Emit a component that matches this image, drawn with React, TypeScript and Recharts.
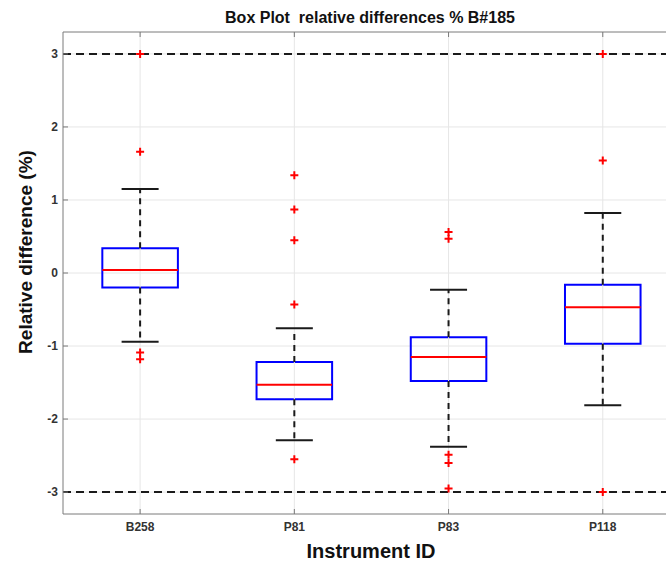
import React from 'react';
import {
  ComposedChart,
  Scatter,
  XAxis,
  YAxis,
  CartesianGrid,
  ReferenceLine,
  ReferenceArea,
} from 'recharts';

// ---- data ----
const categories = ['B258', 'P81', 'P83', 'P118'];
const q1 = [-0.2, -1.73, -1.48, -0.97];
const medians = [0.04, -1.53, -1.15, -0.47];
const q3 = [0.34, -1.22, -0.88, -0.16];
const whiskerLow = [-0.94, -2.29, -2.38, -1.81];
const whiskerHigh = [1.15, -0.755, -0.23, 0.82];
const outliersB258 = [3.0, 1.66, -1.09, -1.18];
const outliersP81 = [1.34, 0.87, 0.45, -0.43, -2.55];
const outliersP83 = [0.56, 0.47, -2.49, -2.6, -2.95];
const outliersP118 = [3.0, 1.54, -3.0];
const yTicks = [-3, -2, -1, 0, 1, 2, 3];
const xTicks = [1, 2, 3, 4];
const limitLines = [3, -3];

const outlierGroups = [outliersB258, outliersP81, outliersP83, outliersP118];
const outlierData = outlierGroups.flatMap((vals, i) =>
  vals.map((v) => ({ x: i + 1, y: v }))
);

const X_DOMAIN: [number, number] = [0.5, 4.41];
const BOX_HALF = 0.245;
const CAP_HALF = 0.12;
const FONT = '"Liberation Sans", Arial, Helvetica, sans-serif';

const PlusShape = (props: any) => {
  const { cx, cy } = props;
  if (cx == null || cy == null) return <g />;
  return (
    <path
      d={`M${cx - 4},${cy}h8M${cx},${cy - 4}v8`}
      stroke="#ff0000"
      strokeWidth={2}
      fill="none"
    />
  );
};

export default function App() {
  return (
    <div
      style={{
        position: 'fixed',
        left: 0,
        top: 0,
        width: 666,
        height: 563,
        overflow: 'hidden',
        background: '#fff',
        fontFamily: FONT,
      }}
    >
      <ComposedChart
        width={666}
        height={563}
        margin={{ top: 30, right: 0, bottom: 0, left: 0 }}
        data={outlierData}
        style={{ fontFamily: FONT }}
      >
        <CartesianGrid
          xAxisId="bottom"
          stroke="#e6e6e6"
          strokeWidth={1}
          vertical={false}
          syncWithTicks
        />
        {xTicks.map((t) => (
          <ReferenceLine
            key={`vg${t}`}
            xAxisId="bottom"
            x={t}
            stroke="#e6e6e6"
            strokeWidth={1}
          />
        ))}
        <XAxis
          xAxisId="bottom"
          dataKey="x"
          type="number"
          domain={X_DOMAIN}
          allowDataOverflow
          ticks={xTicks}
          interval={0}
          tickFormatter={(v: number) => categories[v - 1]}
          height={49}
          stroke="#7a7a7a"
          tickSize={-5}
          tickMargin={13}
          tick={{ fill: '#333', fontSize: 12, fontWeight: 'bold' }}
        />
        <XAxis
          xAxisId="top"
          orientation="top"
          dataKey="x"
          type="number"
          domain={X_DOMAIN}
          allowDataOverflow
          ticks={xTicks}
          interval={0}
          tickFormatter={() => ''}
          height={2}
          stroke="#7a7a7a"
          tickSize={-5}
        />
        <YAxis
          type="number"
          domain={[-3.3, 3.3]}
          ticks={yTicks}
          interval={0}
          width={63}
          stroke="#7a7a7a"
          tickSize={-5}
          tickMargin={10}
          tick={{ fill: '#333', fontSize: 12, fontWeight: 'bold' }}
        />
        {limitLines.map((v) => (
          <ReferenceLine
            key={`lim${v}`}
            xAxisId="bottom"
            y={v}
            stroke="#1a1a1a"
            strokeWidth={2}
            strokeDasharray="8 5"
          />
        ))}
        {categories.map((c, i) => {
          const x = i + 1;
          return (
            <React.Fragment key={c}>
              <ReferenceLine
                xAxisId="bottom"
                segment={[
                  { x, y: q3[i] },
                  { x, y: whiskerHigh[i] },
                ]}
                stroke="#1a1a1a"
                strokeWidth={2}
                strokeDasharray="6 5"
              />
              <ReferenceLine
                xAxisId="bottom"
                segment={[
                  { x, y: q1[i] },
                  { x, y: whiskerLow[i] },
                ]}
                stroke="#1a1a1a"
                strokeWidth={2}
                strokeDasharray="6 5"
              />
              <ReferenceLine
                xAxisId="bottom"
                segment={[
                  { x: x - CAP_HALF, y: whiskerHigh[i] },
                  { x: x + CAP_HALF, y: whiskerHigh[i] },
                ]}
                stroke="#1a1a1a"
                strokeWidth={2}
              />
              <ReferenceLine
                xAxisId="bottom"
                segment={[
                  { x: x - CAP_HALF, y: whiskerLow[i] },
                  { x: x + CAP_HALF, y: whiskerLow[i] },
                ]}
                stroke="#1a1a1a"
                strokeWidth={2}
              />
              <ReferenceArea
                xAxisId="bottom"
                x1={x - BOX_HALF}
                x2={x + BOX_HALF}
                y1={q1[i]}
                y2={q3[i]}
                fill="none"
                fillOpacity={0}
                stroke="#0000ff"
                strokeWidth={2}
                strokeOpacity={1}
              />
              <ReferenceLine
                xAxisId="bottom"
                segment={[
                  { x: x - BOX_HALF, y: medians[i] },
                  { x: x + BOX_HALF, y: medians[i] },
                ]}
                stroke="#ff0000"
                strokeWidth={2}
              />
            </React.Fragment>
          );
        })}
        <Scatter
          xAxisId="bottom"
          dataKey="y"
          data={outlierData}
          shape={PlusShape}
          isAnimationActive={false}
        />
      </ComposedChart>
      <div
        style={{
          position: 'absolute',
          left: 370,
          top: 18,
          transform: 'translate(-50%, -50%)',
          fontSize: 16,
          fontWeight: 'bold',
          color: '#111',
          whiteSpace: 'pre',
        }}
      >
        {'Box Plot  relative differences % B#185'}
      </div>
      <div
        style={{
          position: 'absolute',
          left: 26,
          top: 252,
          transform: 'translate(-50%, -50%) rotate(-90deg)',
          fontSize: 19,
          fontWeight: 'bold',
          color: '#111',
          whiteSpace: 'pre',
        }}
      >
        Relative difference (%)
      </div>
      <div
        style={{
          position: 'absolute',
          left: 371,
          top: 551,
          transform: 'translate(-50%, -50%)',
          fontSize: 20,
          fontWeight: 'bold',
          color: '#111',
          whiteSpace: 'pre',
        }}
      >
        Instrument ID
      </div>
    </div>
  );
}
